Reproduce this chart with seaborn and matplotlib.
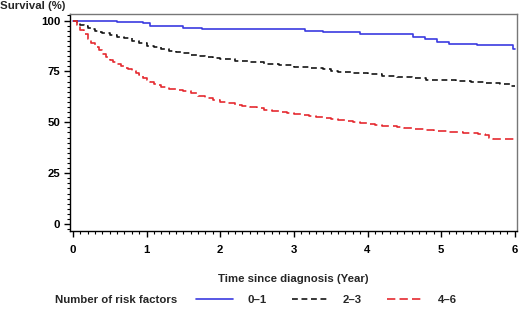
import numpy as np
import pandas as pd
import matplotlib
matplotlib.use('Agg')
import matplotlib.pyplot as plt
from matplotlib.ticker import MultipleLocator
import seaborn as sns

# Curvas de sobrevida (Kaplan-Meier)
grupos = ['0\u20131', '2\u20133', '4\u20136']

tempo_01 = [0, 0.3, 0.6, 0.95, 1.05, 1.5, 1.75, 3.15, 3.4, 3.9, 4.62, 4.78, 4.95, 5.1, 5.49, 5.97, 6.0]
surv_01 = [100, 99.6, 99.2, 98.8, 97.5, 96.4, 95.7, 95.0, 94.3, 93.4, 91.9, 91.0, 89.5, 88.7, 88.1, 86.2, 86.2]

tempo_23 = [0, 0.05, 0.1, 0.15, 0.2, 0.25, 0.3, 0.35, 0.4, 0.5, 0.6, 0.7, 0.8, 0.9, 1.0, 1.1,
            1.2, 1.3, 1.4, 1.5, 1.6, 1.7, 1.8, 1.9, 2.0, 2.2, 2.4, 2.6, 2.8, 3.0, 3.2, 3.4,
            3.5, 3.6, 3.8, 4.0, 4.2, 4.4, 4.6, 4.8, 5.0, 5.2, 5.4, 5.6, 5.8, 5.95, 6.0]
surv_23 = [100, 99.0, 98.0, 97.2, 96.4, 95.7, 95.0, 94.5, 94.0, 93.0, 92.0, 91.2, 90.0, 88.8, 87.7, 86.8,
           85.9, 85.1, 84.5, 83.9, 83.3, 82.6, 82.0, 81.4, 81.0, 80.3, 79.6, 78.8, 78.0, 77.3, 76.6, 76.0,
           75.3, 74.8, 74.3, 73.8, 72.9, 72.3, 71.6, 71.0, 70.6, 70.1, 69.7, 69.2, 68.6, 67.6, 67.6]

tempo_46 = [0, 0.05, 0.1, 0.15, 0.2, 0.25, 0.3, 0.35, 0.4, 0.45, 0.5, 0.55, 0.6, 0.65, 0.7, 0.75,
            0.8, 0.85, 0.9, 0.95, 1.0, 1.05, 1.1, 1.15, 1.2, 1.3, 1.4, 1.5, 1.6, 1.7, 1.8, 1.9,
            2.0, 2.1, 2.2, 2.3, 2.4, 2.5, 2.6, 2.7, 2.8, 2.9, 3.0, 3.1, 3.2, 3.3, 3.4, 3.5,
            3.6, 3.7, 3.8, 3.9, 4.0, 4.1, 4.2, 4.3, 4.4, 4.5, 4.6, 4.7, 4.8, 4.9, 5.0, 5.1,
            5.2, 5.3, 5.4, 5.5, 5.6, 5.65, 5.7, 6.0]
surv_46 = [100, 97.8, 95.5, 93.2, 91.0, 89.0, 87.2, 85.3, 83.5, 82.0, 80.7, 79.6, 78.6, 77.7, 76.8, 76.0,
           75.0, 74.0, 73.0, 72.0, 71.0, 70.0, 69.0, 68.2, 67.5, 66.6, 65.9, 65.2, 64.3, 63.0, 61.8, 60.8,
           60.0, 59.3, 58.7, 58.1, 57.5, 56.8, 56.1, 55.5, 55.0, 54.5, 54.0, 53.5, 52.9, 52.5, 52.1, 51.6,
           51.1, 50.6, 50.1, 49.6, 49.1, 48.7, 48.4, 48.1, 47.8, 47.3, 46.8, 46.5, 46.3, 45.9, 45.5, 45.3,
           45.2, 44.9, 44.6, 44.4, 43.6, 42.5, 42.0, 42.0]

# Montar tabela longa para o seaborn
df = pd.concat([
    pd.DataFrame({'grupo': grupos[0], 'tempo': tempo_01, 'surv': surv_01}),
    pd.DataFrame({'grupo': grupos[1], 'tempo': tempo_23, 'surv': surv_23}),
    pd.DataFrame({'grupo': grupos[2], 'tempo': tempo_46, 'surv': surv_46}),
], ignore_index=True)

sns.set_theme(style='ticks')
plt.rcParams['font.family'] = ['Liberation Sans', 'DejaVu Sans']
plt.rcParams['font.weight'] = 'bold'

cores = {grupos[0]: '#3b3be0', grupos[1]: '#151515', grupos[2]: '#e52a30'}
tracos = {grupos[0]: '', grupos[1]: (3.5, 2.2), grupos[2]: (5, 2.5)}

fig = plt.figure(figsize=(5.2, 3.09), dpi=100)
ax = fig.add_axes([70 / 520, 1 - 231 / 309, 447 / 520, 217 / 309])

sns.lineplot(data=df, x='tempo', y='surv', hue='grupo', style='grupo',
             palette=cores, dashes=tracos, estimator=None, drawstyle='steps-post',
             linewidth=1.2, ax=ax)

ax.set_xlim(-0.04, 6.03)
ax.set_ylim(-3.4, 103.2)
ax.set_xticks(range(0, 7))
ax.set_yticks([0, 25, 50, 75, 100])
ax.xaxis.set_minor_locator(MultipleLocator(0.1))
ax.yaxis.set_minor_locator(MultipleLocator(2.5))
ax.tick_params(axis='both', which='major', length=4, width=1, labelsize=8.2, colors='black', pad=3)
ax.tick_params(axis='both', which='minor', length=2.5, width=0.8, colors='black')
ax.tick_params(axis='x', pad=6)
for lab in ax.get_xticklabels() + ax.get_yticklabels():
    lab.set_fontweight('bold')

for lado in ['top', 'right']:
    ax.spines[lado].set_color('#777777')
    ax.spines[lado].set_linewidth(1)
for lado in ['left', 'bottom']:
    ax.spines[lado].set_color('black')
    ax.spines[lado].set_linewidth(1)

ax.set_xlabel('Time since diagnosis (Year)', fontsize=8.2, fontweight='bold', labelpad=14)
ax.set_ylabel('')
fig.text(0.0, 1 - 6 / 309, 'Survival (%)', fontsize=8.2, fontweight='bold', ha='left', va='center')

# Legenda na parte inferior
sns.move_legend(ax, 'center left', bbox_to_anchor=(0.272, -0.318), ncol=3, title=None,
                frameon=False, fontsize=8.2, handlelength=3.2, handletextpad=1.3,
                columnspacing=2.2, borderaxespad=0)
for t in ax.get_legend().get_texts():
    t.set_fontweight('bold')
fig.text(55 / 520, 1 - 300 / 309, 'Number of risk factors', fontsize=8.2, fontweight='bold',
         ha='left', va='center')

fig.savefig('out.png', dpi=100)
